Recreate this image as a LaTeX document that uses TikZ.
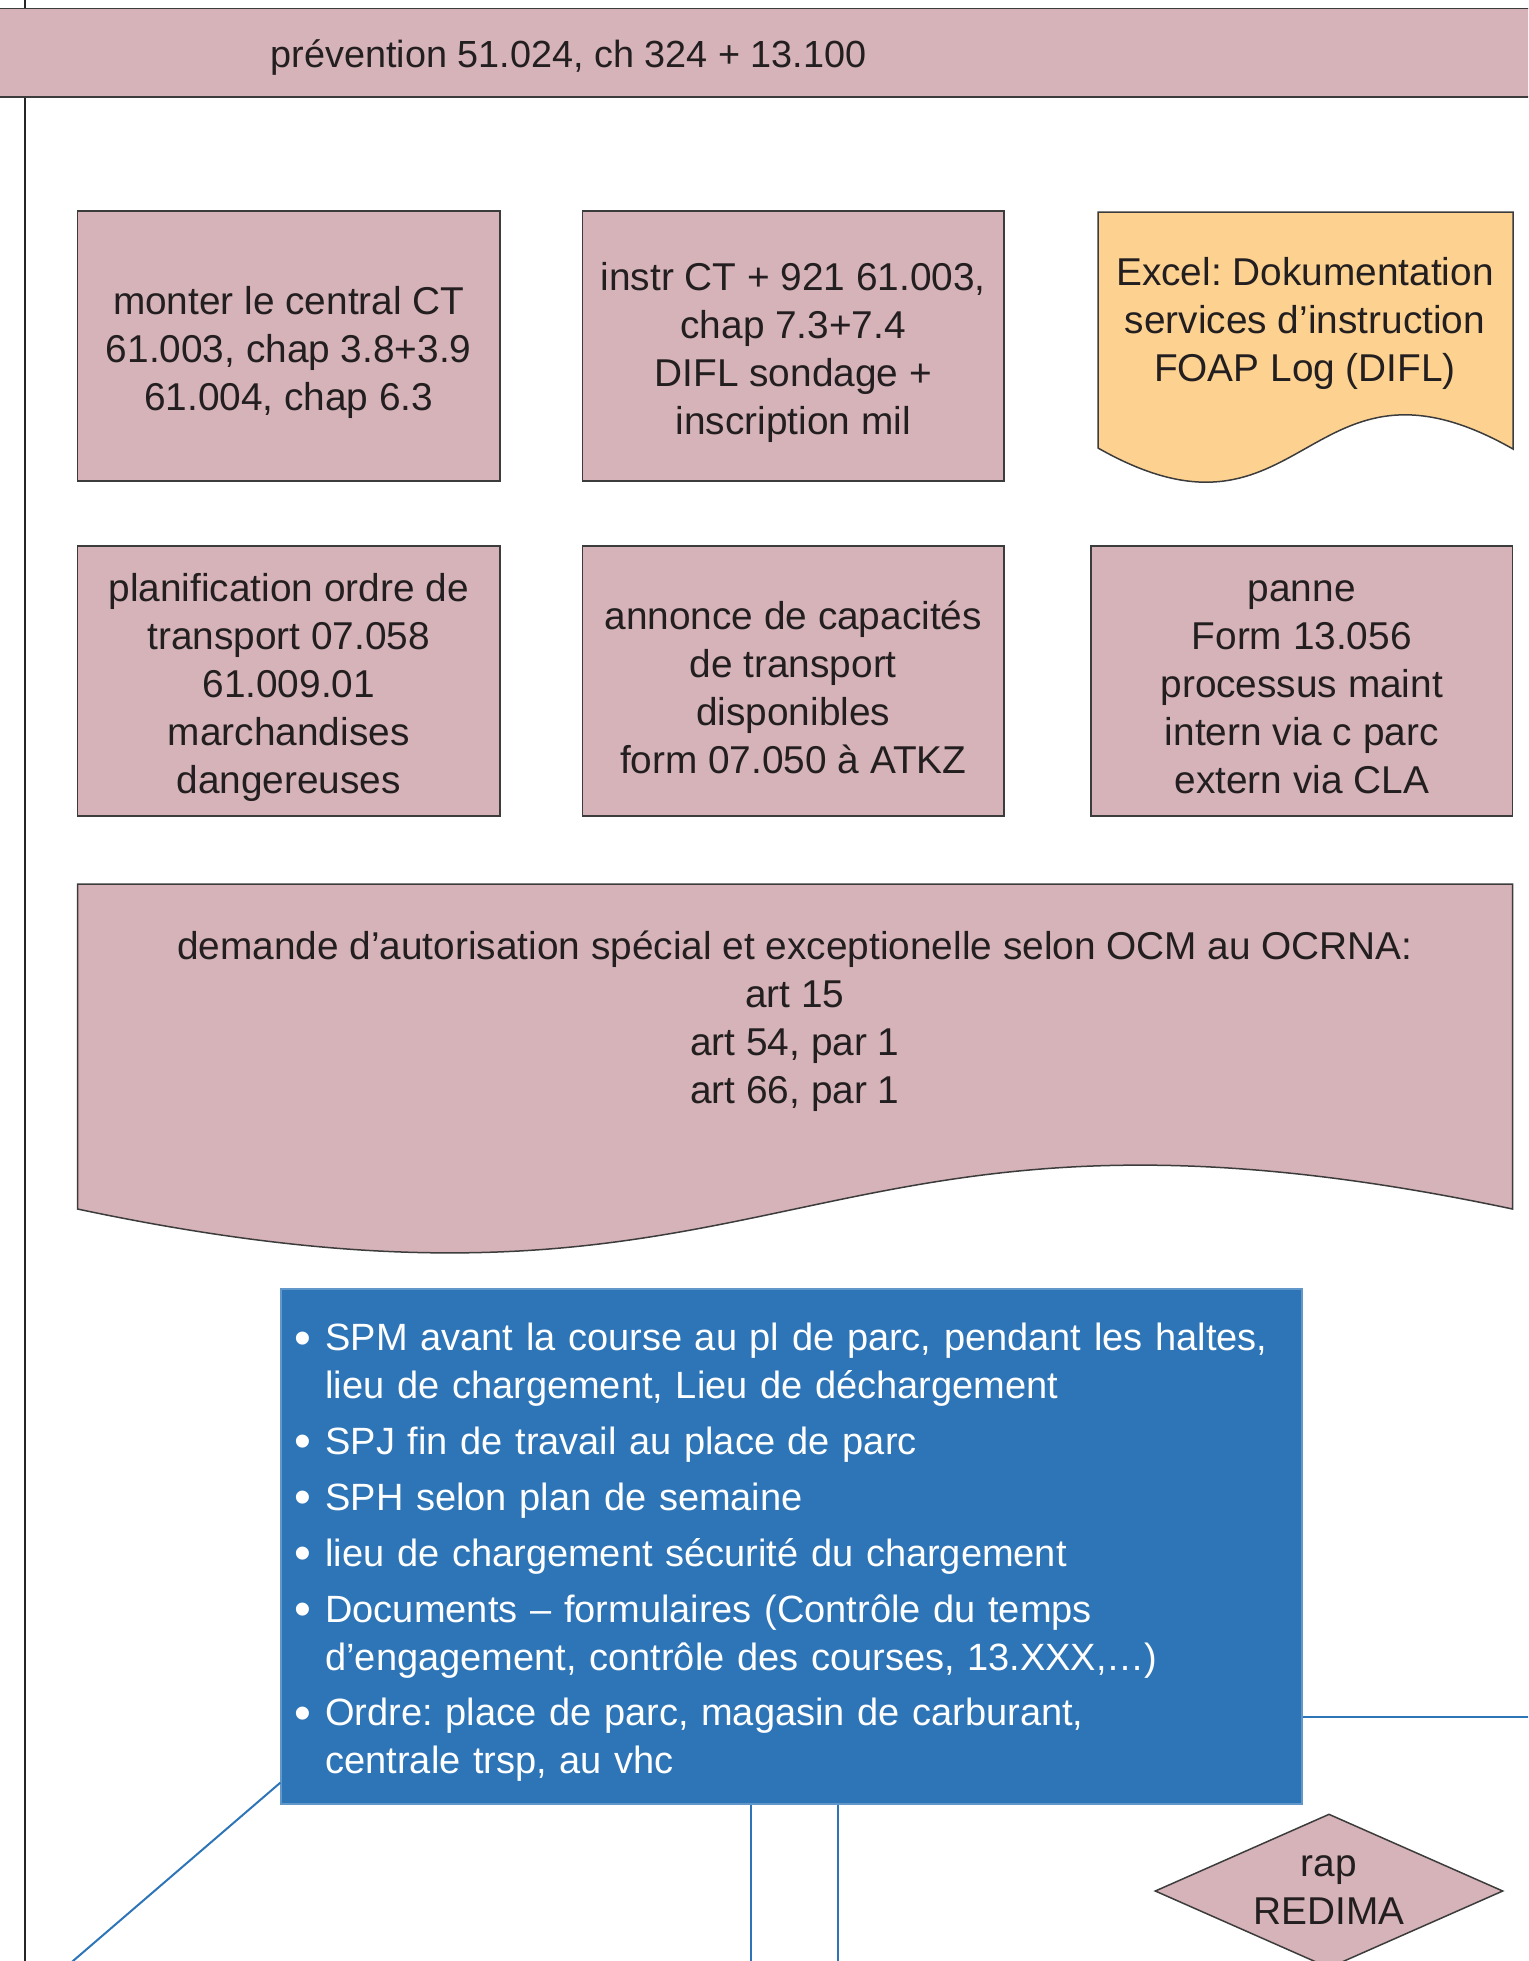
\documentclass[tikz,border=0pt]{standalone}
\usepackage{fontspec}
\setmainfont{Liberation Sans}
\usetikzlibrary{shapes.geometric}
\definecolor{pinkfill}{RGB}{213,179,184}
\definecolor{docorange}{RGB}{253,210,145}
\definecolor{bluefill}{RGB}{46,117,184}
\definecolor{edgegray}{RGB}{60,60,60}
\definecolor{txt}{RGB}{35,31,32}
\frenchspacing
\newcommand\blueitem[1]{\hangindent=12.5pt\hangafter=1\noindent\makebox[12.5pt][l]{\hspace*{-3pt}\raisebox{-1.6pt}{\fontsize{24}{24}\selectfont\textbullet}}#1\par}
\begin{document}
\begin{tikzpicture}[x=0.5pt,y=-0.5pt,
  mainfont/.style={font=\fontsize{19.4}{24}\selectfont},
  box/.style={draw=edgegray, line width=0.75pt, fill=pinkfill, inner sep=0pt},
  docshape/.style={draw=edgegray, line width=0.75pt},
  label/.style={align=center, text=txt, mainfont, inner sep=0pt, yshift=-3pt},
  blueline/.style={draw=bluefill, line width=1pt},
  frameline/.style={draw=black!85, line width=1.25pt}]
\useasboundingbox (0,0) rectangle (1528,1961);
\clip (0,0) rectangle (1528,1961);
% left frame line
\coordinate (ltop) at (25,-10);
\coordinate (lbot) at (25,1975);
\draw[frameline] (ltop) -- (lbot);
% top bar
\node[box, anchor=north west, minimum width=780pt, minimum height=44.25pt] (bar) at (-20,7.5) {};
\node[label, font=\fontsize{18.9}{24}\selectfont] (prev) at (568.5,51) {prévention 51.024, ch 324 + 13.100};
% row 1
\node[box, minimum width=211.25pt, minimum height=135pt] (b1) at (288.75,346) {};
\node[label] (t1) at (b1.center) {monter le central CT\\61.003, chap 3.8+3.9\\61.004, chap 6.3};
\node[box, minimum width=210.75pt, minimum height=135pt] (b2) at (793.25,346) {};
\node[label] (t2) at (b2.center) {instr CT + 921 61.003,\\chap 7.3+7.4\\DIFL sondage +\\inscription mil};
\fill[docorange] (1098,212) -- (1513,212) -- (1513,449) .. controls (1305.5,331) and (1305.5,566) .. (1098,448) -- cycle;
\draw[docshape] (1098,212) -- (1513,212) -- (1513,449) .. controls (1305.5,331) and (1305.5,566) .. (1098,448) -- cycle;
\node[label] (excel) at (1305,317) {Excel: Dokumentation\\services d’instruction\\FOAP Log (DIFL)};
% row 2
\node[box, minimum width=211.25pt, minimum height=135pt] (b4) at (288.75,681) {};
\node[label] (t4) at (b4.center) {planification ordre de\\transport 07.058\\61.009.01\\marchandises\\dangereuses};
\node[box, minimum width=210.75pt, minimum height=135pt] (b5) at (793.25,681) {};
\node[label] (t5) at (b5.center) {annonce de capacités\\de transport\\disponibles\\form 07.050 à ATKZ};
\node[box, minimum width=210.75pt, minimum height=135pt] (b6) at (1301.75,681) {};
\node[label] (t6) at (b6.center) {panne\\Form 13.056\\processus maint\\intern via c parc\\extern via CLA};
% big document
\fill[pinkfill] (77.5,884) -- (1512.5,884) -- (1512.5,1209) .. controls (795,1057) and (795,1361) .. (77.5,1209) -- cycle;
\draw[docshape] (77.5,884) -- (1512.5,884) -- (1512.5,1209) .. controls (795,1057) and (795,1361) .. (77.5,1209) -- cycle;
\node[label] (ocm) at (795,1015) {demande d’autorisation spécial et exceptionelle selon OCM au OCRNA:\\art 15\\art 54, par 1\\art 66, par 1};
% blue box
\node[draw=bluefill!75!white, line width=0.6pt, fill=bluefill, minimum width=510.5pt, minimum height=257.5pt, inner sep=0pt] (blue) at (791.5,1546.5) {};
\node[anchor=north west, inner sep=0pt, text width=500pt, text=white, font=\fontsize{19}{24}\selectfont] (list) at (300,1323) {\setlength{\parskip}{3.9pt}\raggedright
\blueitem{SPM avant la course au pl de parc, pendant les haltes,\newline lieu de chargement, Lieu de déchargement}%
\blueitem{SPJ fin de travail au place de parc}%
\blueitem{SPH selon plan de semaine}%
\blueitem{lieu de chargement sécurité du chargement}%
\blueitem{Documents – formulaires (Contrôle du temps\newline d’engagement, contrôle des courses, 13.XXX,…)}%
\blueitem{Ordre: place de parc, magasin de carburant,\newline centrale trsp, au vhc}};
% connectors
\coordinate (rEnd) at (1535,1717);
\coordinate (dEnd) at (62.5,1970);
\coordinate (vEnd1) at (751,1975);
\coordinate (vEnd2) at (837.5,1975);
\draw[blueline] (blue.east |- rEnd) -- (rEnd);
\draw[blueline] ([yshift=11pt]blue.south west) -- (dEnd);
\draw[blueline] ([xshift=-20.25pt]blue.south) -- (vEnd1);
\draw[blueline] ([xshift=23pt]blue.south) -- (vEnd2);
% diamond
\node[diamond, draw=edgegray, line width=0.75pt, fill=pinkfill, minimum width=174pt, minimum height=77pt, inner sep=0pt] (rap) at (1329,1891) {};
\node[label] (raptext) at (1329,1884) {rap\\REDIMA};
\end{tikzpicture}
\end{document}
